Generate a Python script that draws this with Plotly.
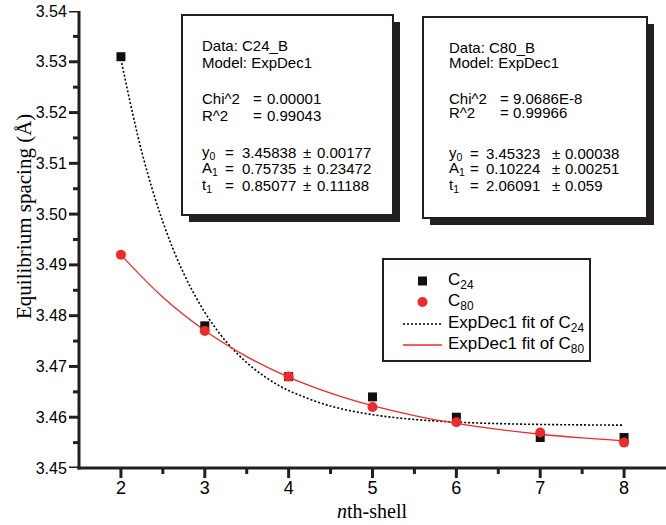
import plotly.graph_objects as go

# ---- data ----
shells = [2, 3, 4, 5, 6, 7, 8]
c24 = [3.531, 3.478, 3.468, 3.464, 3.460, 3.456, 3.456]
c80 = [3.492, 3.477, 3.468, 3.462, 3.459, 3.457, 3.455]

# ExpDec1 fit curves as drawn
fit24_x = [2.0, 2.25, 2.5, 2.75, 3.0, 3.25, 3.5, 3.75, 4.0, 4.5, 5.0, 5.5, 6.0, 6.5, 7.0, 7.5, 8.0]
fit24_y = [3.53055, 3.51218, 3.49848, 3.48827, 3.48066, 3.47499, 3.47076, 3.46760, 3.46526,
           3.46220, 3.46050, 3.45956, 3.45904, 3.45874, 3.45858, 3.45849, 3.45844]
fit80_x = [2.0, 2.5, 3.0, 3.5, 4.0, 4.5, 5.0, 5.5, 6.0, 6.5, 7.0, 7.5, 8.0]
fit80_y = [3.49197, 3.48362, 3.47708, 3.47194, 3.46791, 3.46475, 3.46227, 3.46032, 3.45879,
           3.45759, 3.45665, 3.45592, 3.45534]

x_ticks = [2, 3, 4, 5, 6, 7, 8]
x_minor = [2.5, 3.5, 4.5, 5.5, 6.5, 7.5]
y_ticks = [3.45, 3.46, 3.47, 3.48, 3.49, 3.50, 3.51, 3.52, 3.53, 3.54]
y_minor = [3.455, 3.465, 3.475, 3.485, 3.495, 3.505, 3.515, 3.525, 3.535]

box1_lines = ["Data: C24_B", "Model: ExpDec1"]
box1_stats = [("Chi^2", "0.00001"), ("R^2", "0.99043")]
box1_params = [("y<sub>0</sub>", "3.45838", "0.00177"),
               ("A<sub>1</sub>", "0.75735", "0.23472"),
               ("t<sub>1</sub>", "0.85077", "0.11188")]
box2_lines = ["Data: C80_B", "Model: ExpDec1"]
box2_stats = [("Chi^2", "9.0686E-8"), ("R^2", "0.99966")]
box2_params = [("y<sub>0</sub>", "3.45323", "0.00038"),
               ("A<sub>1</sub>", "0.10224", "0.00251"),
               ("t<sub>1</sub>", "2.06091", "0.059")]

legend_labels = ["C<sub>24</sub>", "C<sub>80</sub>",
                 "ExpDec1 fit of C<sub>24</sub>", "ExpDec1 fit of C<sub>80</sub>"]

W, H = 666, 525
L, R, T, B = 79, 666, 11, 468


def px(x):
    return (x - L) / (R - L)


def py(y):
    return (B - y) / (B - T)


RED = "#ee2b2b"
INK = "#231f20"
SANS = "Liberation Sans, Arial, sans-serif"
SERIF = "Liberation Serif, Times New Roman, serif"

fig = go.Figure()
fig.add_trace(go.Scatter(x=fit24_x, y=fit24_y, mode="lines", line_shape="spline",
                         line=dict(color="black", width=1.6, dash="2px,2px"),
                         name="ExpDec1 fit of C24"))
fig.add_trace(go.Scatter(x=fit80_x, y=fit80_y, mode="lines", line_shape="spline",
                         line=dict(color=RED, width=1.3), name="ExpDec1 fit of C80"))
fig.add_trace(go.Scatter(x=shells, y=c24, mode="markers",
                         marker=dict(symbol="square", size=9, color="#111111"), name="C24"))
fig.add_trace(go.Scatter(x=shells, y=c80, mode="markers",
                         marker=dict(symbol="circle", size=10, color=RED), name="C80"))

shapes = []
annos = []

# ---- axis lines and tick marks (drawn as shapes on the axis scales) ----
shapes.append(dict(type="line", xref="paper", yref="paper", x0=px(77.5), x1=px(666),
                   y0=0, y1=0, line=dict(color=INK, width=3)))
shapes.append(dict(type="line", xref="paper", yref="paper", x0=0, x1=0,
                   y0=py(469.5), y1=1, line=dict(color=INK, width=3)))
for v in x_ticks:
    shapes.append(dict(type="line", xref="x", yref="paper", x0=v, x1=v,
                       y0=0, y1=py(478), line=dict(color=INK, width=3)))
for v in x_minor:
    shapes.append(dict(type="line", xref="x", yref="paper", x0=v, x1=v,
                       y0=0, y1=py(474), line=dict(color=INK, width=3)))
for v in y_ticks:
    shapes.append(dict(type="line", xref="paper", yref="y", x0=px(69), x1=0,
                       y0=v, y1=v, line=dict(color=INK, width=3)))
for v in y_minor:
    shapes.append(dict(type="line", xref="paper", yref="y", x0=px(73), x1=0,
                       y0=v, y1=v, line=dict(color=INK, width=3)))


def text(x, y, s, size=15, family=SANS):
    annos.append(dict(x=px(x), y=py(y), xref="paper", yref="paper", text=s,
                      showarrow=False, xanchor="left", yanchor="middle",
                      font=dict(family=family, size=size, color="black")))


def fit_box(x0, y0, x1, y1, tx, rows, eq_stat, val_stat, eq_p, val_p, pm_x, err_x,
            lines, stats, params):
    shapes.append(dict(type="rect", xref="paper", yref="paper",
                       x0=px(x0 + 7), x1=px(x1 + 7), y0=py(y0 + 7), y1=py(y1 + 7),
                       fillcolor=INK, line=dict(width=0)))
    shapes.append(dict(type="rect", xref="paper", yref="paper",
                       x0=px(x0), x1=px(x1), y0=py(y0), y1=py(y1),
                       fillcolor="white", line=dict(color=INK, width=2)))
    for s, y in zip(lines, rows[0:2]):
        text(tx, y, s)
    for (lab, v), y in zip(stats, rows[2:4]):
        text(tx, y, lab)
        text(eq_stat, y, "=")
        text(val_stat, y, v)
    for (lab, v, e), y in zip(params, rows[4:7]):
        text(tx, y, lab)
        text(eq_p, y, "=")
        text(val_p, y, v)
        text(pm_x, y, "±")
        text(err_x, y, e)


fit_box(182, 15, 393, 215, 200, [46, 63, 99, 115, 152, 168, 185],
        251, 265, 223, 240, 301, 315, box1_lines, box1_stats, box1_params)
fit_box(423, 17, 647, 218, 447, [47, 63, 99, 113, 153, 168, 185],
        498, 511, 468, 484, 550, 563, box2_lines, box2_stats, box2_params)

# legend (drawn manually to match the reference frame)
shapes.append(dict(type="rect", xref="paper", yref="paper",
                   x0=px(383), x1=px(590), y0=py(259), y1=py(361),
                   fillcolor="white", line=dict(color=INK, width=2)))
leg_y = [281, 302, 324, 345]
shapes.append(dict(type="rect", xref="paper", yref="paper",
                   x0=px(418), x1=px(427), y0=py(leg_y[0] - 4.5), y1=py(leg_y[0] + 4.5),
                   fillcolor="#111111", line=dict(width=0)))
shapes.append(dict(type="circle", xref="paper", yref="paper",
                   x0=px(417.5), x1=px(427.5), y0=py(leg_y[1] - 5), y1=py(leg_y[1] + 5),
                   fillcolor=RED, line=dict(width=0)))
shapes.append(dict(type="line", xref="paper", yref="paper",
                   x0=px(403), x1=px(442), y0=py(leg_y[2]), y1=py(leg_y[2]),
                   line=dict(color="black", width=1.5, dash="2px,2px")))
shapes.append(dict(type="line", xref="paper", yref="paper",
                   x0=px(403), x1=px(442), y0=py(leg_y[3]), y1=py(leg_y[3]),
                   line=dict(color=RED, width=1.3)))
for lab, y in zip(legend_labels, leg_y):
    text(446, y, lab, size=17)

# axis titles
annos.append(dict(x=px(24), y=py(217), xref="paper", yref="paper", xanchor="center",
                  yanchor="middle", text="Equilibrium spacing (Å)", textangle=-90,
                  showarrow=False, font=dict(family=SERIF, size=21, color="black")))
annos.append(dict(x=px(372), y=py(511), xref="paper", yref="paper", xanchor="center",
                  yanchor="middle", text="<i>n</i>th-shell", showarrow=False,
                  font=dict(family=SERIF, size=20, color="black")))

fig.update_layout(
    width=W, height=H,
    margin=dict(l=L, r=W - R, t=T, b=H - B, pad=0),
    paper_bgcolor="white", plot_bgcolor="white",
    shapes=shapes, annotations=annos,
    showlegend=False,
    xaxis=dict(range=[1.5, 8.5], tickmode="array", tickvals=x_ticks,
               ticktext=[str(v) for v in x_ticks],
               showgrid=False, zeroline=False, showline=False,
               ticks="outside", ticklen=3, tickcolor="rgba(0,0,0,0)",
               tickfont=dict(family=SANS, size=18, color="black")),
    yaxis=dict(range=[3.45, 3.54], tickmode="array", tickvals=y_ticks,
               ticktext=[f"{v:.2f}" for v in y_ticks],
               showgrid=False, zeroline=False, showline=False,
               ticks="outside", ticklen=8, tickcolor="rgba(0,0,0,0)",
               tickfont=dict(family=SANS, size=16, color="black")),
)

fig.write_html("out.html", config={"displayModeBar": False},
               post_script="document.body.style.margin='0';"
               "document.body.style.overflow='hidden';")
